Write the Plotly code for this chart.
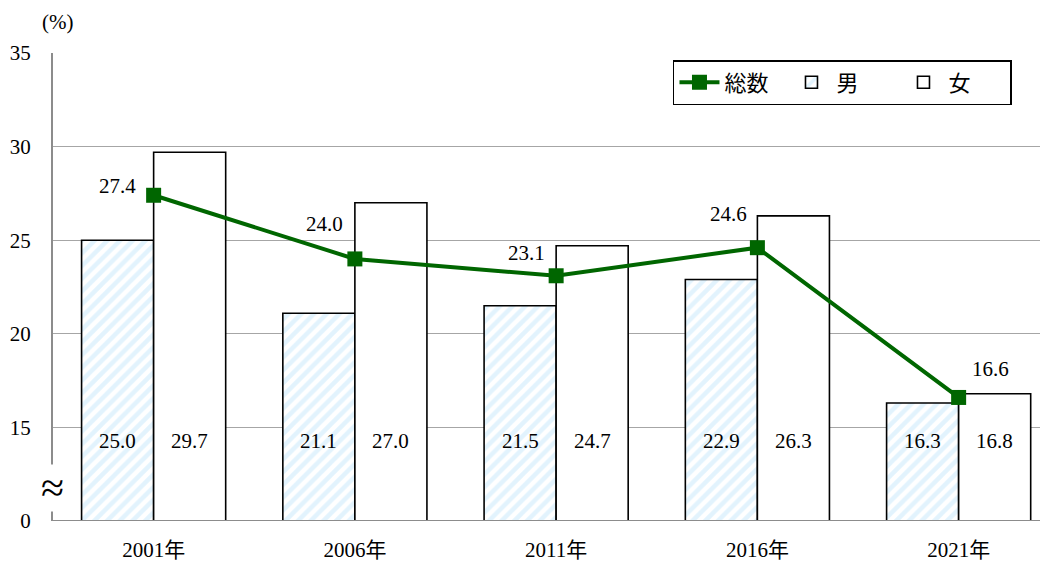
import plotly.graph_objects as go

years = ["2001年", "2006年", "2011年", "2016年", "2021年"]
total = [27.4, 24.0, 23.1, 24.6, 16.6]
male = [25.0, 21.1, 21.5, 22.9, 16.3]
female = [29.7, 27.0, 24.7, 26.3, 16.8]
ytick_vals = [10, 15, 20, 25, 30, 35]
ytick_text = ["0", "15", "20", "25", "30", "35"]

FONT = "Liberation Serif, Noto Sans CJK JP, serif"
GREEN = "#006600"
FS = 21

fig = go.Figure()
fig.add_trace(go.Bar(
    x=years, y=male, name="男",
    marker=dict(color="white", line=dict(color="black", width=1.6),
                pattern=dict(shape="/", fgcolor="#c6e7fb", bgcolor="white",
                             size=9, solidity=0.5)),
    legendrank=2,
))
fig.add_trace(go.Bar(
    x=years, y=female, name="女",
    marker=dict(color="white", line=dict(color="black", width=1.6)),
    legendrank=3,
))
fig.add_trace(go.Scatter(
    x=years, y=total, name="総数", mode="lines+markers",
    line=dict(color=GREEN, width=4),
    marker=dict(symbol="square", size=15, color=GREEN),
    legendrank=1,
))

# bar value labels
for i, yr in enumerate(years):
    fig.add_annotation(x=yr, y=14.3, text=f"{male[i]:.1f}", showarrow=False,
                       xshift=-36, font=dict(size=FS, family=FONT, color="black"))
    fig.add_annotation(x=yr, y=14.3, text=f"{female[i]:.1f}", showarrow=False,
                       xshift=36, font=dict(size=FS, family=FONT, color="black"))

# line value labels (pixel offsets)
shifts = [(-36, 9), (-30, 35), (-30, 23), (-29, 34), (32, 28)]
for i, yr in enumerate(years):
    dx, dy = shifts[i]
    fig.add_annotation(x=yr, y=total[i], text=f"{total[i]:.1f}", showarrow=False,
                       xshift=dx, yshift=dy,
                       font=dict(size=FS, family=FONT, color="black"))

# unit label
fig.add_annotation(xref="paper", yref="paper", x=0.005, y=1.066, text="(%)",
                   xanchor="center", yanchor="middle",
                   showarrow=False, font=dict(size=FS, family=FONT, color="black"))
# axis break mark
fig.add_annotation(xref="paper", yref="y", x=-0.001, y=11.76, text="≈",
                   xanchor="center", yanchor="middle",
                   showarrow=False, bgcolor="white", borderpad=0,
                   font=dict(size=42, family=FONT, color="black"))

# page body has an 8px margin: compensate in figure size/margins
fig.update_layout(
    width=1040, height=554,
    margin=dict(l=45, r=0, t=45, b=41),
    plot_bgcolor="white", paper_bgcolor="white",
    barmode="group", bargap=0.284, bargroupgap=0,
    font=dict(family=FONT, size=FS, color="black"),
    legend=dict(orientation="h", x=0.9638, xanchor="right", y=0.985, yanchor="top",
                bordercolor="black", borderwidth=1.5, bgcolor="white",
                font=dict(size=22, family=FONT), traceorder="normal",
                itemwidth=40, entrywidth=57, entrywidthmode="pixels"),
    xaxis=dict(range=[-0.5, 4.444], showgrid=False, showline=False,
               ticks="outside", ticklen=10, tickcolor="white", automargin=False,
               tickfont=dict(size=FS, family=FONT)),
    yaxis=dict(range=[10, 35], tickvals=ytick_vals, ticktext=ytick_text,
               showgrid=True, gridcolor="#a6a6a6", gridwidth=1.3,
               showline=True, linecolor="#8c8c8c", linewidth=2, automargin=False,
               ticks="outside", ticklen=16, tickcolor="white",
               tickfont=dict(size=FS, family=FONT), zeroline=False),
)
# baseline at bottom
fig.add_shape(type="line", xref="paper", yref="y", x0=0, x1=1, y0=10, y1=10,
              line=dict(color="#8c8c8c", width=2))

fig.write_html("out.html")
